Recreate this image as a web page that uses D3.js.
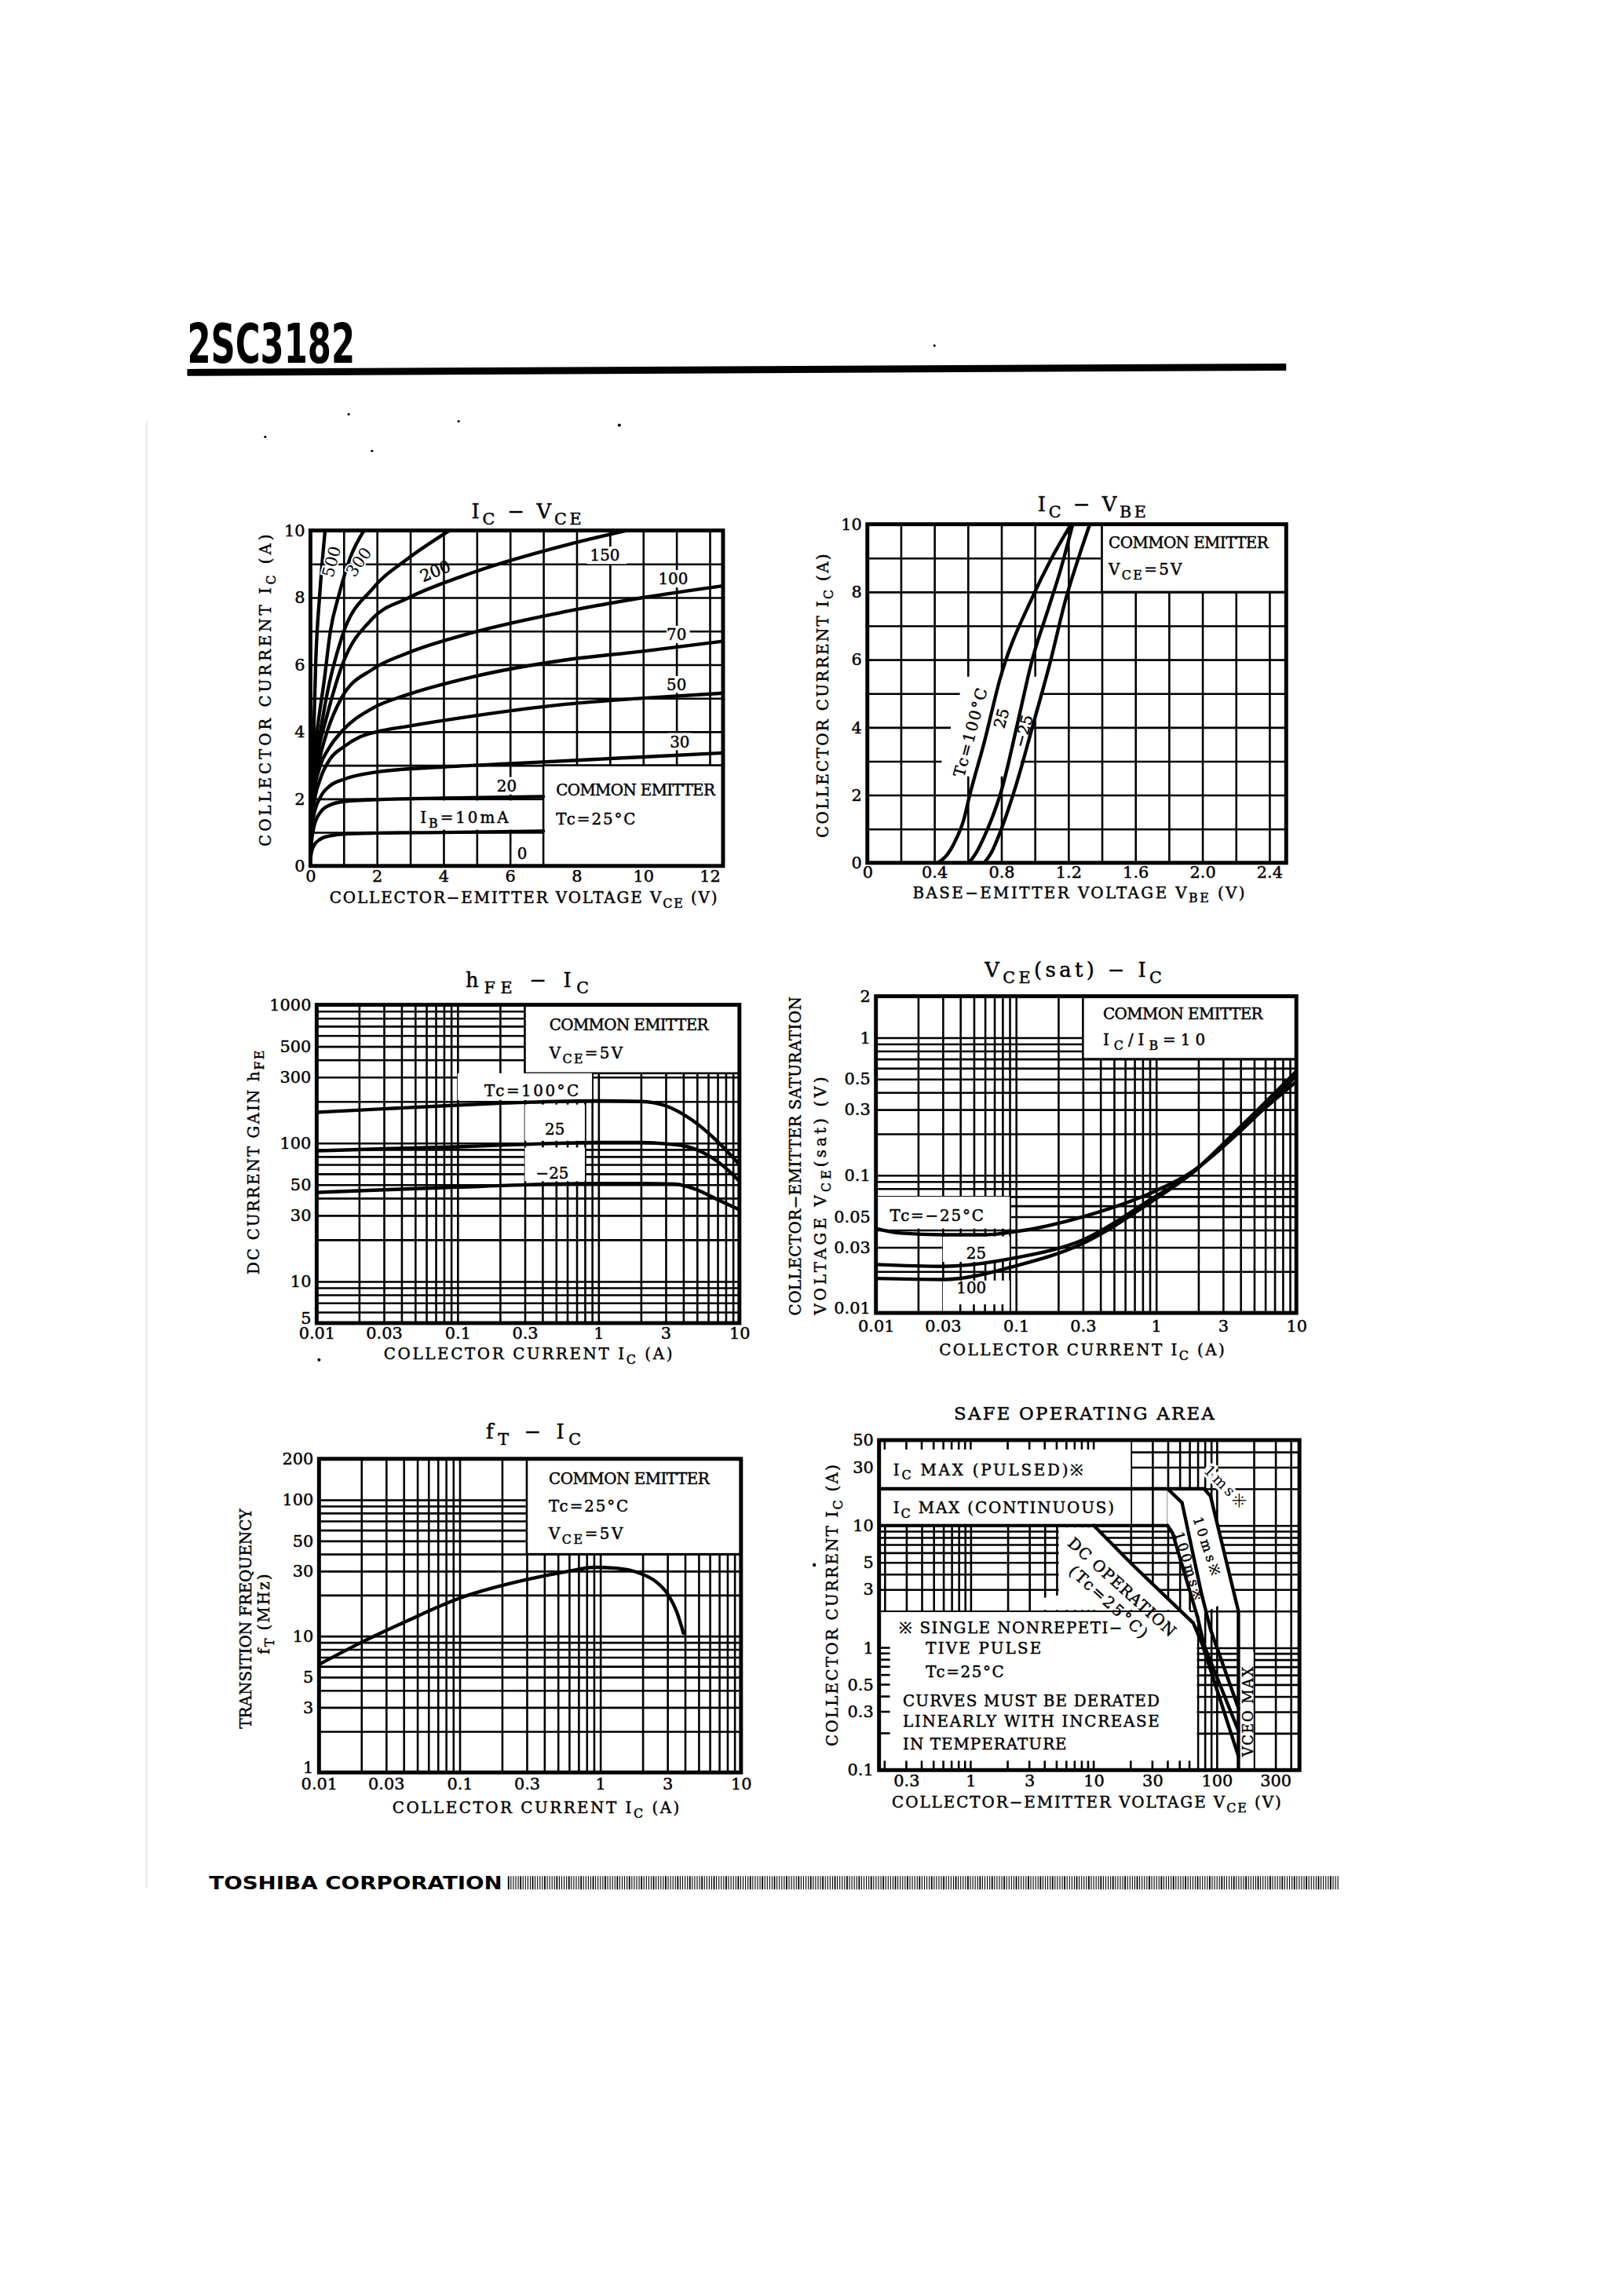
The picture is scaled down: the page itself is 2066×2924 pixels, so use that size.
<!DOCTYPE html>
<html lang="en">
<head>
<meta charset="UTF-8">
<title>2SC3182</title>
<script src="https://cdn.jsdelivr.net/npm/d3@7"></script>
<style>
  body { margin: 0; background: #fff; }
  svg { display: block; font-family: "DejaVu Serif", "Liberation Serif", serif; }
  text.ink { stroke: #000; stroke-width: 0.45px; }
</style>
</head>
<body>
<svg id="sheet" width="2066" height="2924"></svg>
<script>
// ---- Ic - Vce, Tc = 25C, one curve per base current (mA) ----
var ib10  = [[0,0.2],[0.03,0.4],[0.1,0.6],[0.3,0.8],[0.6,0.9],[1,0.95],[2,0.98],[4,1.0],[7,1.04]];
var ib20  = [[0,0.3],[0.03,0.7],[0.1,1.15],[0.3,1.6],[0.6,1.82],[1,1.92],[2,1.98],[4,2.02],[7,2.07]];
var ib30  = [[0,0.3],[0.03,0.9],[0.1,1.5],[0.3,2.05],[0.6,2.4],[1,2.58],[2,2.8],[4,2.95],[6,3.05],[8,3.15],[10,3.25],[12.4,3.37]];
var ib50  = [[0,0.3],[0.03,1.0],[0.1,1.8],[0.3,2.6],[0.6,3.2],[1,3.55],[1.5,3.85],[2,4.0],[2.9,4.16],[4.89,4.47],[7.66,4.82],[10,5.0],[12.4,5.15]];
var ib70  = [[0,0.3],[0.03,1.2],[0.1,2.1],[0.3,3.0],[0.55,3.5],[0.94,4.01],[1.88,4.71],[2.9,5.1],[4.89,5.64],[7.66,6.14],[10,6.4],[12.4,6.7]];
var ib100 = [[0,0.3],[0.03,1.3],[0.1,2.3],[0.3,3.3],[0.5,4.0],[0.94,5.02],[1.88,5.87],[2.9,6.34],[4.89,6.96],[7.66,7.58],[10,8.0],[12.4,8.35]];
var ib150 = [[0,0.3],[0.03,1.4],[0.1,2.5],[0.25,3.5],[0.45,4.3],[0.94,5.95],[1.88,7.39],[2.9,7.97],[4.89,8.75],[7.66,9.56],[9.5,10]];
var ib200 = [[0,0.3],[0.03,1.5],[0.1,2.7],[0.3,4.0],[0.48,5.03],[0.94,6.81],[1.88,8.28],[2.9,9.14],[4.18,10]];
var ib300 = [[0,0.3],[0.03,1.6],[0.08,2.8],[0.2,4.0],[0.41,5.5],[0.6,7.0],[0.87,8.13],[1.2,9.2],[1.61,10]];
var ib500 = [[0,0.3],[0.02,1.6],[0.05,2.8],[0.1,4.0],[0.16,6.1],[0.28,8.1],[0.44,10]];
var vceTicks = [0, 2, 4, 6, 8, 10, 12];
var icTicks = [0, 2, 4, 6, 8, 10];

// ---- Ic - Vbe, Vce = 5V ----
var vbe100 = [[0.42,0],[0.47,0.2],[0.52,0.6],[0.577,1.3],[0.607,1.92],[0.7,3.6],[0.79,5.4],[0.983,7.82],[1.1,9.0],[1.216,10]];
var vbe25  = [[0.607,0],[0.65,0.3],[0.7,0.8],[0.75,1.4],[0.8,2.13],[0.9,4.2],[0.983,5.98],[1.08,7.5],[1.15,8.6],[1.226,10]];
var vbeM25 = [[0.698,0],[0.74,0.3],[0.8,1.0],[0.9,2.5],[0.983,3.97],[1.09,5.9],[1.186,7.82],[1.26,9.0],[1.328,10]];
var vbeTicks = [0, 0.4, 0.8, 1.2, 1.6, 2.0, 2.4];

// ---- hFE - Ic, Vce = 5V ----
var hfe100 = [[0.01,167],[0.03,177],[0.1,188],[0.3,197],[1,202],[2,200],[3,186],[4.6,147],[6.7,107],[10,70]];
var hfe25  = [[0.01,88],[0.03,91],[0.1,94],[0.3,98],[1,101],[2,101],[3,99],[4.5,93],[5.7,84],[8,66],[10,53]];
var hfeM25 = [[0.01,44],[0.03,46],[0.1,48],[0.3,50],[1,51],[2,51],[3.5,50.5],[5,46],[7,39],[10,33]];
var hfeTicks = [5, 10, 30, 50, 100, 300, 500, 1000];
var currentTicks = [0.01, 0.03, 0.1, 0.3, 1, 3, 10];

// ---- Vce(sat) - Ic, Ic/Ib = 10 ----
var satM25 = [[0.01,0.041],[0.015,0.038],[0.03,0.037],[0.06,0.037],[0.1,0.039],[0.3,0.05],[0.96,0.076],[1.72,0.103],[4.08,0.214],[10,0.53]];
var sat25  = [[0.01,0.0225],[0.03,0.0218],[0.1,0.0252],[0.3,0.034],[0.96,0.069],[1.72,0.1],[4.08,0.22],[10,0.48]];
var sat100 = [[0.01,0.0178],[0.03,0.0175],[0.1,0.022],[0.3,0.032],[0.96,0.066],[1.72,0.1],[4.08,0.23],[10,0.57]];
var satTicks = [0.01, 0.03, 0.05, 0.1, 0.3, 0.5, 1, 2];

// ---- fT - Ic ----
var ftCurve = [[0.01,6.2],[0.02,9.0],[0.04,12.6],[0.1,19],[0.29,25.8],[0.6,30],[0.9,32],[1.3,31.5],[1.9,29],[2.5,25],[3,20.5],[3.5,15],[3.9,10.5]];
var ftTicks = [1, 3, 5, 10, 30, 50, 100, 200];

// ---- safe operating area ----
var soaPulsed = [[0.18,20],[79,20]];
var soaCont   = [[0.18,10],[39.8,10]];
var soa1ms    = [[79,20],[89,17.4],[150,1.99]];
var soa10ms   = [[39.8,20],[52.2,15.4],[75,2.8],[89,1.41],[150,0.32]];
var soa100ms  = [[39.8,10],[43.7,8.7],[69.6,1.8],[78.9,1.05],[150,0.21]];
var soaDC     = [[10,10],[20.6,4.8],[64.6,1.59],[76.7,1.05],[150,0.13]];
var soaVceo   = [[150,1.99],[150,0.1]];
var soaYTicks = [0.1, 0.3, 0.5, 1, 3, 5, 10, 30, 50];
var soaXTicks = [0.3, 1, 3, 10, 30, 100, 300];

var svg = d3.select('#sheet').append('g').attr('transform', 'scale(0.9935)');
var GRID = 2.6, CURVE = 4.4, FRAME = 5;

// all 1..9 x 10^n values strictly inside (lo, hi)
function logGrid(lo, hi) {
    var out = [];
    for (var e = Math.floor(Math.log10(lo)); e <= Math.ceil(Math.log10(hi)); e++) {
        for (var k = 1; k < 10; k++) {
            var v = +(k * Math.pow(10, e)).toPrecision(3);
            if (v > lo * 1.0001 && v < hi * 0.9999) out.push(v);
        }
    }
    return out;
}

// text with _{sub} markup
function rich(t, s, size) {
    var low = false;
    s.split(/(_\{[^}]*\})/).filter(function (d) { return d; }).forEach(function (pt) {
        var sub = pt.indexOf('_{') === 0;
        var ts = t.append('tspan').text(sub ? pt.slice(2, -1) : pt);
        if (sub) {
            ts.attr('font-size', size * 0.8);
            if (!low) ts.attr('dy', size * 0.3);
            low = true;
        } else {
            if (low) ts.attr('dy', -size * 0.3);
            low = false;
        }
    });
    return t;
}

function label(parent, s, x, y, o) {
    o = o || {};
    var size = o.size || 20;
    var t = parent.append('text')
        .attr('class', 'ink')
        .attr('transform', 'translate(' + x + ',' + y + ') rotate(' + (o.rot || 0) + ')')
        .attr('text-anchor', o.anchor || 'middle')
        .attr('dy', '0.35em')
        .attr('font-size', size)
        .attr('fill', '#000');
    rich(t, s, size);
    if (o.len) t.attr('textLength', o.len).attr('lengthAdjust', 'spacing');
    if (o.halo) t.style('stroke', '#fff').style('stroke-width', o.halo + 'px').attr('paint-order', 'stroke');
    return t;
}

function panel(p) {
    var w = p.box[2] - p.box[0], h = p.box[3] - p.box[1];
    var g = svg.append('g').attr('transform', 'translate(' + p.box[0] + ',' + p.box[1] + ')');
    var x = (p.xLog ? d3.scaleLog() : d3.scaleLinear()).domain(p.xDomain).range([0, w]);
    var y = (p.yLog ? d3.scaleLog() : d3.scaleLinear()).domain(p.yDomain).range([h, 0]);

    var gridG = g.append('g');
    gridG.append('g').attr('transform', 'translate(0,' + h + ')')
        .call(d3.axisBottom(x).tickValues(p.xGrid).tickSize(-h).tickFormat(''));
    gridG.append('g')
        .call(d3.axisLeft(y).tickValues(p.yGrid).tickSize(-w).tickFormat(''));
    gridG.selectAll('.domain').remove();
    gridG.selectAll('line').attr('stroke', '#000').attr('stroke-width', GRID);

    var maskG = g.append('g');
    g.append('clipPath').attr('id', 'clip' + p.id).append('rect').attr('width', w).attr('height', h);
    var markG = g.append('g').attr('clip-path', 'url(#clip' + p.id + ')');
    var frameG = g.append('g');
    var noteG = g.append('g');
    frameG.append('rect').attr('width', w).attr('height', h)
        .attr('fill', 'none').attr('stroke', '#000').attr('stroke-width', FRAME);

    var ax = g.append('g').attr('transform', 'translate(0,' + h + ')')
        .call(d3.axisBottom(x).tickValues(p.xTicks).tickFormat(p.xFmt || String).tickSize(0).tickPadding(p.xPad));
    var ay = g.append('g')
        .call(d3.axisLeft(y).tickValues(p.yTicks).tickFormat(p.yFmt || String).tickSize(0).tickPadding(7));
    [ax, ay].forEach(function (a) {
        a.attr('font-family', null).attr('font-size', null);
        a.select('.domain').remove();
        a.selectAll('text').attr('class', 'ink').attr('font-size', 21).attr('fill', '#000');
    });
    // lowest y label sits a little above the corner, as in the sheet
    if (p.raiseLow) ay.selectAll('text').filter(function (d) { return d === p.yTicks[0]; }).attr('dy', '0.02em');

    return { g: g, x: x, y: y, w: w, h: h, maskG: maskG, markG: markG, noteG: noteG };
}

function maskRect(P, x0, x1, y0, y1, border) {
    P.maskG.append('rect')
        .attr('x', P.x(x0)).attr('y', P.y(y1))
        .attr('width', P.x(x1) - P.x(x0)).attr('height', P.y(y0) - P.y(y1))
        .attr('fill', '#fff')
        .attr('stroke', border ? '#000' : 'none').attr('stroke-width', GRID);
}

function maskPoly(P, pts) {
    P.maskG.append('path')
        .attr('d', d3.line().x(function (d) { return P.x(d[0]); }).y(function (d) { return P.y(d[1]); })(pts) + 'Z')
        .attr('fill', '#fff');
}

// short grid stubs left along the edge of a blank area
function stubsX(P, vals, yv, len) {
    P.maskG.selectAll(null).data(vals).join('line')
        .attr('x1', function (d) { return P.x(d); }).attr('x2', function (d) { return P.x(d); })
        .attr('y1', P.y(yv)).attr('y2', P.y(yv) + len)
        .attr('stroke', '#000').attr('stroke-width', GRID);
}
function stubsY(P, vals, xv, len) {
    P.maskG.selectAll(null).data(vals).join('line')
        .attr('y1', function (d) { return P.y(d); }).attr('y2', function (d) { return P.y(d); })
        .attr('x1', P.x(xv)).attr('x2', P.x(xv) + len)
        .attr('stroke', '#000').attr('stroke-width', GRID);
}

function curve(P, pts, kind) {
    P.markG.append('path').datum(pts)
        .attr('fill', 'none').attr('stroke', '#000').attr('stroke-width', CURVE)
        .attr('stroke-linejoin', 'round').attr('stroke-linecap', 'round')
        .attr('d', d3.line()
            .x(function (d) { return P.x(d[0]); })
            .y(function (d) { return P.y(d[1]); })
            .curve(kind || d3.curveMonotoneX));
}

function note(P, s, xv, yv, o) {
    return label(P.noteG, s, P.x(xv), P.y(yv), Object.assign({ anchor: 'start' }, o || {}));
}

// ================= header =================
svg.append('line').attr('x1', 188).attr('x2', 188).attr('y1', 540).attr('y2', 2420)
    .attr('stroke', '#e6e6e6').attr('stroke-width', 2);
svg.append('text').attr('x', 240).attr('y', 465)
    .style('font-family', '"Liberation Sans Narrow", "DejaVu Sans Condensed", sans-serif')
    .attr('font-weight', 'bold').attr('font-size', 70)
    .attr('textLength', 215).attr('lengthAdjust', 'spacingAndGlyphs')
    .text('2SC3182');
svg.append('path').attr('d', 'M240,473 L1649,466 L1649,475 L240,482 Z').attr('fill', '#000');
// scan specks
[[1198, 443, 1.6], [447, 531, 1.6], [588, 540, 1.6], [794, 545, 2], [340, 560, 1.6], [477, 578, 1.6], [409, 1743, 2], [1044, 2006, 2.2]]
    .forEach(function (d) { svg.append('circle').attr('cx', d[0]).attr('cy', d[1]).attr('r', d[2]).attr('fill', '#000'); });

// ================= Ic - Vce =================
var p1 = panel({ id: 1, box: [398, 680, 927, 1110], xDomain: [0, 12.4], yDomain: [0, 10],
    xGrid: d3.range(1, 13), yGrid: d3.range(1, 10), xTicks: vceTicks, yTicks: icTicks, xPad: 5 });
maskRect(p1, 7, 12.4, 0, 3, true);
maskRect(p1, 3.15, 6.95, 1.08, 1.95);
maskRect(p1, 5.5, 6.3, 2.13, 2.65);
maskRect(p1, 6.05, 6.7, 0.08, 0.68);
maskRect(p1, 8.3, 9.5, 9.0, 9.52);
maskRect(p1, 10.4, 11.5, 8.3, 8.82);
maskRect(p1, 10.7, 11.4, 6.64, 7.16);
maskRect(p1, 10.7, 11.4, 5.16, 5.66);
maskRect(p1, 10.75, 11.45, 3.45, 3.96);
[ib10, ib20, ib30, ib50, ib70, ib100, ib150, ib200, ib300, ib500].forEach(function (c) { curve(p1, c); });
note(p1, '500', 0.63, 9.07, { anchor: 'middle', rot: -75, halo: 4, size: 21 });
note(p1, '300', 1.45, 9.06, { anchor: 'middle', rot: -55, halo: 4, size: 21 });
note(p1, '200', 3.75, 8.79, { anchor: 'middle', rot: -22, size: 21 });
note(p1, '150', 8.85, 9.26, { anchor: 'middle' });
note(p1, '100', 10.9, 8.56, { anchor: 'middle' });
note(p1, '70', 11.0, 6.9, { anchor: 'middle' });
note(p1, '50', 11.0, 5.4, { anchor: 'middle' });
note(p1, '30', 11.1, 3.7, { anchor: 'middle' });
note(p1, '20', 5.9, 2.39, { anchor: 'middle' });
note(p1, '0', 6.36, 0.37, { anchor: 'middle' });
note(p1, 'I_{B}=10mA', 3.3, 1.44, { len: 113 });
note(p1, 'COMMON EMITTER', 7.38, 2.26, { len: 204 });
note(p1, 'Tc=25°C', 7.38, 1.4, { len: 102 });
label(svg, 'I_{C} − V_{CE}', 675, 655, { size: 26, len: 141 });
label(svg, 'COLLECTOR−EMITTER VOLTAGE   V_{CE} (V)', 671, 1151, { len: 497 });
label(svg, 'COLLECTOR CURRENT   I_{C} (A)', 340, 885, { rot: -90, len: 400 });

// ================= Ic - Vbe =================
var p2 = panel({ id: 2, box: [1112, 672, 1649, 1106], xDomain: [0, 2.5], yDomain: [0, 10],
    xGrid: d3.range(1, 13).map(function (i) { return i * 0.2; }), yGrid: d3.range(1, 10),
    xTicks: vbeTicks, yTicks: icTicks, xPad: 4,
    xFmt: function (d) { return d === 0 ? '0' : d.toFixed(1); } });
maskRect(p2, 1.4, 2.5, 8, 10, true);
maskPoly(p2, [[0.42, 2.55], [0.58, 5.5], [1.06, 5.5], [0.89, 2.55]]);
[vbe100, vbe25, vbeM25].forEach(function (c) { curve(p2, c); });
note(p2, 'Tc=100°C', 0.615, 3.85, { anchor: 'middle', rot: -75, len: 117 });
note(p2, '25', 0.8, 4.27, { anchor: 'middle', rot: -75 });
note(p2, '−25', 0.932, 3.89, { anchor: 'middle', rot: -75 });
note(p2, 'COMMON EMITTER', 1.44, 9.46, { len: 205 });
note(p2, 'V_{CE}=5V', 1.44, 8.66, { len: 94 });
label(svg, 'I_{C} − V_{BE}', 1400, 646, { size: 26, len: 139 });
label(svg, 'BASE−EMITTER VOLTAGE   V_{BE} (V)', 1383, 1144, { len: 426 });
label(svg, 'COLLECTOR CURRENT   I_{C} (A)', 1055, 892, { rot: -90, len: 364 });

// ================= hFE - Ic =================
var p3 = panel({ id: 3, box: [406, 1288, 948, 1696], xLog: true, yLog: true,
    xDomain: [0.01, 10], yDomain: [5, 1000], xGrid: logGrid(0.01, 10), yGrid: logGrid(5, 1000),
    xTicks: currentTicks, yTicks: hfeTicks, xPad: 5, raiseLow: true });
maskRect(p3, 0.3, 10, 320, 1000, true);
maskRect(p3, 0.1, 0.9, 205, 320);
maskRect(p3, 0.3, 0.8, 104, 190);
maskRect(p3, 0.3, 0.8, 53, 93);
[hfe100, hfe25, hfeM25].forEach(function (c) { curve(p3, c); });
note(p3, 'COMMON EMITTER', 0.448, 719, { len: 204 });
note(p3, 'V_{CE}=5V', 0.448, 449, { len: 94 });
note(p3, 'Tc=100°C', 0.155, 238, { len: 121 });
note(p3, '25', 0.49, 126, { anchor: 'middle' });
note(p3, '−25', 0.47, 61, { anchor: 'middle' });
label(svg, 'h_{FE} − I_{C}', 676, 1256, { size: 26, len: 158 });
label(svg, 'COLLECTOR CURRENT   I_{C} (A)', 677, 1735, { len: 370 });
label(svg, 'DC CURRENT GAIN   h_{FE}', 325, 1490, { rot: -90, len: 287 });

// ================= Vce(sat) - Ic =================
var p4 = panel({ id: 4, box: [1123, 1277, 1662, 1683], xLog: true, yLog: true,
    xDomain: [0.01, 10], yDomain: [0.01, 2], xGrid: logGrid(0.01, 10), yGrid: logGrid(0.01, 2),
    xTicks: currentTicks, yTicks: satTicks, xPad: 9, raiseLow: true });
maskRect(p4, 0.3, 10, 0.7, 2, true);
maskRect(p4, 0.01, 0.09, 0.041, 0.07);
maskRect(p4, 0.03, 0.09, 0.0235, 0.036);
maskRect(p4, 0.03, 0.09, 0.01, 0.0172);
stubsX(p4, [0.04, 0.05, 0.06, 0.07, 0.08], 0.01, -11);
[satM25, sat25, sat100].forEach(function (c) { curve(p4, c); });
note(p4, 'COMMON EMITTER', 0.417, 1.5, { len: 205 });
note(p4, 'I_{C}/I_{B}=10', 0.417, 0.97, { len: 131 });
note(p4, 'Tc=−25°C', 0.0126, 0.0508, { len: 120 });
note(p4, '25', 0.052, 0.027, { anchor: 'middle' });
note(p4, '100', 0.048, 0.0153, { anchor: 'middle' });
label(svg, 'V_{CE}(sat) − I_{C}', 1376, 1243, { size: 26, len: 227 });
label(svg, 'COLLECTOR CURRENT   I_{C} (A)', 1387, 1730, { len: 366 });
label(svg, 'COLLECTOR−EMITTER SATURATION', 1020, 1482, { rot: -90, len: 409 });
label(svg, 'VOLTAGE     V_{CE}(sat)  (V)', 1052, 1533, { rot: -90, len: 305 });

// ================= fT - Ic =================
var p5 = panel({ id: 5, box: [409, 1870, 950, 2272], xLog: true, yLog: true,
    xDomain: [0.01, 10], yDomain: [1, 200], xGrid: logGrid(0.01, 10), yGrid: logGrid(1, 200),
    xTicks: currentTicks, yTicks: ftTicks, xPad: 7, raiseLow: true });
maskRect(p5, 0.3, 10, 40, 200, true);
curve(p5, ftCurve);
note(p5, 'COMMON EMITTER', 0.43, 143.9, { len: 206 });
note(p5, 'Tc=25°C', 0.43, 89.9, { len: 102 });
note(p5, 'V_{CE}=5V', 0.43, 56.3, { len: 95 });
label(svg, 'f_{T} − I_{C}', 684, 1835, { size: 26, len: 122 });
label(svg, 'COLLECTOR CURRENT   I_{C} (A)', 687, 2317, { len: 368 });
label(svg, 'TRANSITION FREQUENCY', 315, 2075, { rot: -90, len: 282 });
label(svg, 'f_{T} (MHz)', 338, 2069, { rot: -90, len: 103 });

// ================= safe operating area =================
var p6 = panel({ id: 6, box: [1127, 1846, 1666, 2269], xLog: true, yLog: true,
    xDomain: [0.18, 470], yDomain: [0.1, 50], xGrid: logGrid(0.18, 470), yGrid: logGrid(0.1, 50),
    xTicks: soaXTicks, yTicks: soaYTicks, xPad: 6 });
var soaGridX = logGrid(0.18, 470);
maskRect(p6, 0.18, 20, 20, 50);
stubsX(p6, soaGridX.filter(function (d) { return d < 19; }), 50, 12);
maskRect(p6, 0.18, 20, 10, 20);
maskRect(p6, 0.18, 69, 0.1, 1.96);
stubsY(p6, logGrid(0.1, 1.5), 0.18, 14);
stubsX(p6, soaGridX.filter(function (d) { return d < 65; }), 0.1, -12);
maskPoly(p6, [[10, 10], [20.6, 4.8], [60, 1.7], [60, 2.04], [3.5, 2.04], [3.5, 2.5], [5.2, 2.7], [5.2, 9.3], [6, 9.65], [9.6, 9.65]]);
maskPoly(p6, [[39.8, 10], [43.7, 8.7], [69.6, 1.8], [140, 2.6], [89, 17.4], [79, 20], [39.8, 20]]);
maskRect(p6, 151, 199, 0.1, 0.93);
[soaPulsed, soaCont, soa1ms, soa10ms, soa100ms, soaDC, soaVceo].forEach(function (c) { curve(p6, c, d3.curveLinear); });
note(p6, 'I_{C} MAX (PULSED)※', 0.235, 28.7, { len: 244 });
note(p6, 'I_{C} MAX (CONTINUOUS)', 0.235, 14, { len: 283 });
note(p6, 'DC OPERATION', 17, 3.15, { anchor: 'middle', rot: 42, len: 178 });
note(p6, '(Tc=25°C)', 13.2, 2.38, { anchor: 'middle', rot: 42, len: 128 });
note(p6, '1ms※', 117, 21, { anchor: 'middle', rot: 45, len: 67, halo: 7, size: 19 });
note(p6, '10ms※', 83, 6.8, { anchor: 'middle', rot: 72, len: 78, size: 17 });
note(p6, '100ms※', 59.3, 4.7, { anchor: 'middle', rot: 73, len: 90, size: 17 });
note(p6, 'VCEO MAX', 179, 0.3, { anchor: 'middle', rot: -90, len: 115, size: 18 });
note(p6, '※ SINGLE NONREPETI−', 0.262, 1.46, { len: 286 });
note(p6, 'TIVE PULSE', 0.432, 0.987, { len: 148 });
note(p6, 'Tc=25°C', 0.432, 0.64, { len: 100 });
note(p6, 'CURVES MUST BE DERATED', 0.281, 0.37, { len: 329 });
note(p6, 'LINEARLY WITH INCREASE', 0.281, 0.25, { len: 329 });
note(p6, 'IN TEMPERATURE', 0.281, 0.163, { len: 210 });
label(svg, 'SAFE OPERATING AREA', 1390, 1812, { size: 23, len: 334 });
label(svg, 'COLLECTOR−EMITTER VOLTAGE   V_{CE} (V)', 1393, 2310, { len: 499 });
label(svg, 'COLLECTOR CURRENT   I_{C} (A)', 1067, 2058, { rot: -90, len: 361 });

// ================= footer =================
svg.append('text').attr('x', 268).attr('y', 2422)
    .style('font-family', '"DejaVu Sans", sans-serif')
    .attr('font-weight', 'bold').attr('font-size', 24)
    .attr('textLength', 376).attr('lengthAdjust', 'spacingAndGlyphs')
    .text('TOSHIBA CORPORATION');
svg.append('g').selectAll('line').data(d3.range(652, 1718, 3.1)).join('line')
    .attr('x1', function (d) { return d; }).attr('x2', function (d) { return d; })
    .attr('y1', 2405).attr('y2', 2422)
    .attr('stroke', '#000')
    .attr('stroke-width', function (d, i) { return i % 5 === 0 ? 1.8 : 1.1; });
</script>
</body>
</html>
